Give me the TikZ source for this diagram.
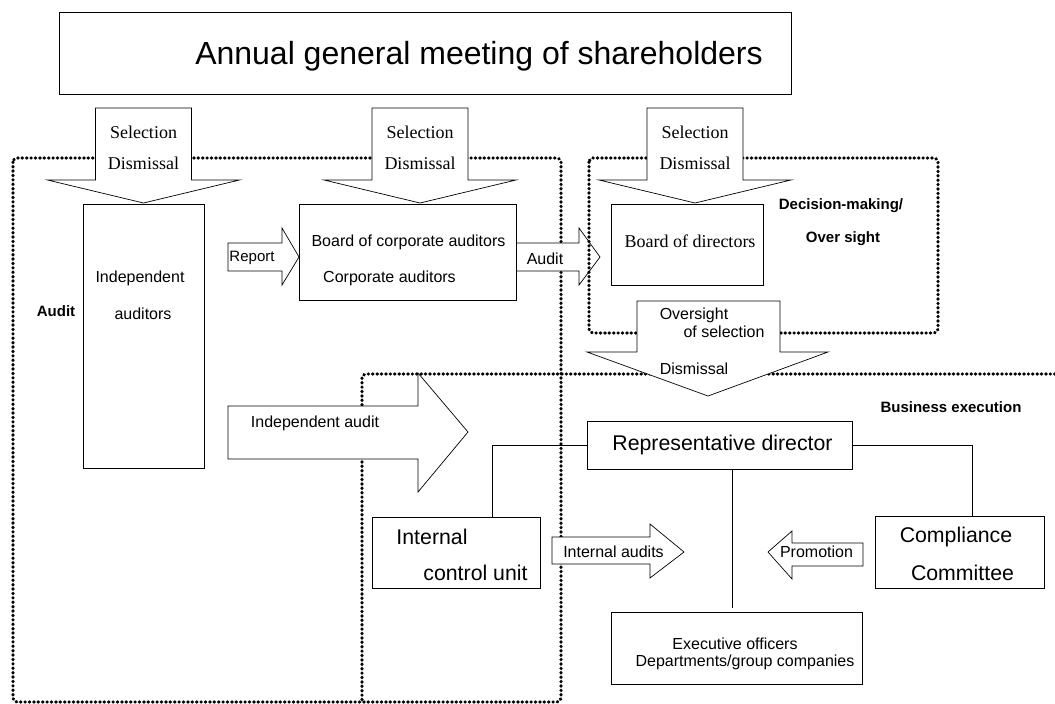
\documentclass[tikz,border=0pt]{standalone}
\usepackage{fontspec}
\setmainfont{Liberation Serif}
\setsansfont{Liberation Sans}
\tikzset{
  box/.style={draw, fill=white, line width=0.7pt, inner sep=0pt, outer sep=0pt},
  bigarrow/.style={draw, fill=white, line width=0.7pt, line join=miter},
  region/.style={line width=3.2pt, dash pattern=on 0.5pt off 3.9pt, line cap=round, rounded corners=4pt},
  lbl/.style={inner sep=0pt, font=\sffamily\fontsize{#1}{#1}\selectfont},
  lbl/.default=16,
  serif/.style={inner sep=0pt, font=\rmfamily\fontsize{18}{18}\selectfont},
  hdr/.style={inner sep=0pt, font=\sffamily\bfseries\fontsize{15}{15}\selectfont},
  link/.style={line width=0.7pt}
}

\begin{document}
\begin{tikzpicture}[x=1pt, y=-1pt]
        \useasboundingbox (0,0) rectangle (1055,704);
        % audit and business areas
        \draw[region] (13,158) rectangle (561,702);
        \draw[region] (1055,374) -| (362,702);
        % audit arrow sits under the decision area
        \draw[bigarrow] (516,243) -- (579,243) -- (579,228) -- (600,257) -- (579,285) -- (579,271) -- (516,271) -- cycle;
        \node[lbl] (auditarr) at (545,259) {Audit};
        \draw[region] (589,158) rectangle (938,333);
        % selection / dismissal arrows
        \foreach \cx/\nm in {143.5/a, 420/b, 695/c} {
            \draw[bigarrow] (\cx-48,108) -- (\cx+48,108) -- (\cx+48,180) -- (\cx+96,180) -- (\cx,203) -- (\cx-96,180) -- (\cx-48,180) -- cycle;
            \node[serif] (sel\nm) at (\cx,132) {Selection};
            \node[serif] (dis\nm) at (\cx,163) {Dismissal};
        }
        \draw[bigarrow] (228,243) -- (282,243) -- (282,228) -- (299,257) -- (282,285) -- (282,271) -- (228,271) -- cycle;
        \draw[bigarrow] (637,301) -- (780,301) -- (780,352) -- (828,352) -- (708,396) -- (587,352) -- (637,352) -- cycle;
        \draw[bigarrow] (228,406) -- (418,406) -- (418,373) -- (468,432) -- (418,492) -- (418,459) -- (228,459) -- cycle;
        \draw[bigarrow] (552,537) -- (650,537) -- (650,524) -- (684,552) -- (650,578) -- (650,564) -- (552,564) -- cycle;
        \draw[bigarrow] (863,543) -- (792,543) -- (792,531) -- (768,552) -- (792,579) -- (792,566) -- (863,566) -- cycle;
        % boxes
        \node[box, minimum width=732pt, minimum height=82pt] (agm) at (425,53) {};
        \node[box, minimum width=121pt, minimum height=264pt] (indaud) at (143.5,336) {};
        \node[box, minimum width=217pt, minimum height=96pt] (bca) at (407.5,252) {};
        \node[box, minimum width=152pt, minimum height=81pt] (bod) at (687,244.5) {};
        \node[box, minimum width=265pt, minimum height=48pt] (rep) at (719.5,445) {};
        \node[box, minimum width=168pt, minimum height=71pt] (intctrl) at (456,552.5) {};
        \node[box, minimum width=169pt, minimum height=72pt] (comp) at (959.5,552) {};
        \node[box, minimum width=251pt, minimum height=72pt] (exec) at (736.5,648) {};
        \coordinate (execin) at (732,608);
        % connectors
        \draw[link] (rep.west) -| ([xshift=36pt]intctrl.north);
        \draw[link] (rep.east) -| ([xshift=12.5pt]comp.north);
        \draw[link] (rep.south -| execin) -- (execin);
        % texts
        \node[lbl=32] (agmtext) at (479,56) {Annual general meeting of shareholders};
        \node[lbl] (indaud1) at (140,278) {Independent};
        \node[lbl] (indaud2) at (143,314) {auditors};
        \node[lbl=15] (report) at (252,258) {Report};
        \node[lbl] (bca1) at (408.5,242) {Board of corporate auditors};
        \node[lbl] (bca2) at (389.5,278) {Corporate auditors};
        \node[serif] (bodtext) at (690,241) {Board of directors};
        \node[hdr] (decide1) at (841,206) {Decision-making/};
        \node[hdr] (decide2) at (843,239) {Over sight};
        \node[lbl] (over1) at (694,315) {Oversight};
        \node[lbl] (over2) at (724,332) {of selection};
        \node[lbl] (over3) at (694,369) {Dismissal};
        \node[hdr] (audithdr) at (56,311) {Audit};
        \node[lbl] (indaudit) at (315,423) {Independent audit};
        \node[hdr] (bizhdr) at (951,407) {Business execution};
        \node[lbl=21.3] (reptext) at (722.5,445) {Representative director};
        \node[lbl=21.3] (int1) at (432,537) {Internal};
        \node[lbl=21.3] (int2) at (475.5,573) {control unit};
        \node[lbl=21.3] (comp1) at (956,537) {Compliance};
        \node[lbl=21.3] (comp2) at (962.5,573) {Committee};
        \node[lbl] (intaud) at (613.5,552) {Internal audits};
        \node[lbl] (promo) at (816.5,552) {Promotion};
        \node[lbl] (exec1) at (735,644) {Executive officers};
        \node[lbl] (exec2) at (745,662) {Departments/group companies};
\end{tikzpicture}
\end{document}
